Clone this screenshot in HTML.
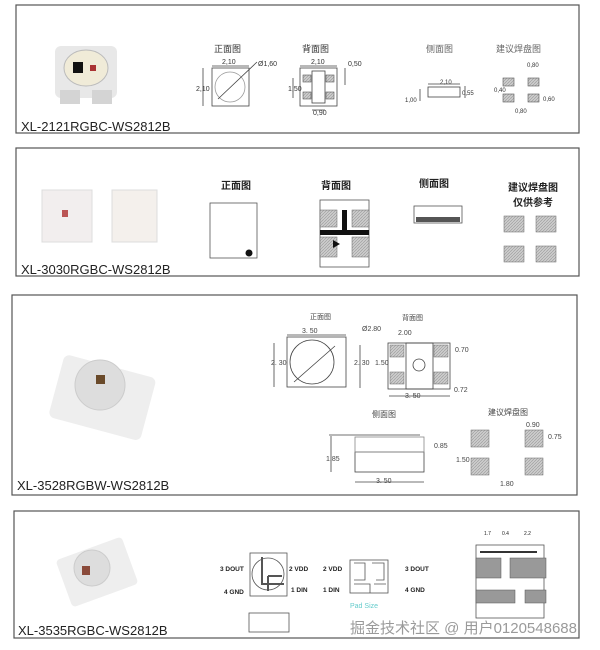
<!DOCTYPE html>
<html><head><meta charset="utf-8"><style>
body{margin:0;background:#fff;width:600px;height:650px;overflow:hidden}
svg{display:block}
text{font-family:"Liberation Sans","Noto Sans CJK SC",sans-serif}
</style></head><body>
<svg width="600" height="650" viewBox="0 0 600 650" xmlns="http://www.w3.org/2000/svg">
<defs>
<pattern id="h" width="3" height="3" patternUnits="userSpaceOnUse"><rect width="3" height="3" fill="#ccc"/><path d="M0 3L3 0" stroke="#999" stroke-width="0.6"/></pattern>
</defs>
<g fill="none" stroke="#555" stroke-width="1.2">
<rect x="16" y="5" width="563" height="128"/>
<rect x="16" y="148" width="563" height="128"/>
<rect x="12" y="295" width="565" height="200"/>
<rect x="14" y="511" width="565" height="127"/>
</g>
<g font-size="13" fill="#222">
<text x="21" y="131">XL-2121RGBC-WS2812B</text>
<text x="21" y="274">XL-3030RGBC-WS2812B</text>
<text x="17" y="490">XL-3528RGBW-WS2812B</text>
<text x="18" y="635">XL-3535RGBC-WS2812B</text>
</g>
<!-- Panel 1 photo -->
<rect x="55" y="46" width="62" height="52" rx="6" fill="#e8e8e8"/>
<rect x="60" y="90" width="20" height="14" fill="#d4d4d4"/><rect x="92" y="90" width="20" height="14" fill="#d4d4d4"/>
<ellipse cx="86" cy="68" rx="22" ry="18" fill="#f0ebd8" stroke="#bbb"/>
<rect x="73" y="62" width="10" height="11" fill="#111"/><rect x="90" y="65" width="6" height="6" fill="#a33"/>
<g font-size="9" fill="#333">
<text x="214" y="52">正面图</text><text x="302" y="52">背面图</text>
<text x="426" y="52" fill="#666">侧面图</text><text x="496" y="52" fill="#666">建议焊盘图</text>
<text x="222" y="64" font-size="7">2,10</text><text x="258" y="66" font-size="7">Ø1,60</text>
<text x="196" y="91" font-size="7">2,10</text>
<text x="311" y="64" font-size="7">2,10</text><text x="348" y="66" font-size="7">0,50</text>
<text x="288" y="91" font-size="7">1,50</text><text x="313" y="115" font-size="7">0,90</text>
<text x="440" y="84" font-size="6">2,10</text><text x="462" y="95" font-size="6">0,55</text><text x="405" y="102" font-size="6">1,00</text>
<text x="527" y="67" font-size="6">0,80</text><text x="494" y="92" font-size="6">0,40</text><text x="543" y="101" font-size="6">0,60</text><text x="515" y="113" font-size="6">0,80</text>
</g>
<g fill="none" stroke="#444" stroke-width="0.8">
<rect x="212" y="68" width="37" height="38"/><circle cx="230" cy="87" r="15" stroke="#999"/>
<path d="M218 99L257 62M212 66H249M203 68V106"/>
<rect x="300" y="68" width="37" height="38"/><rect x="312" y="71" width="13" height="32"/>
<path d="M300 66H337M293 78V98M312 110H325M345 68V85"/>
<rect x="428" y="87" width="32" height="10"/><path d="M428 84H460M420 89V101M465 86V98"/>
</g>
<g fill="url(#h)" stroke="#555" stroke-width="0.6">
<rect x="303" y="75" width="8" height="7"/><rect x="326" y="75" width="8" height="7"/><rect x="303" y="92" width="8" height="7"/><rect x="326" y="92" width="8" height="7"/>
<rect x="503" y="78" width="11" height="8"/><rect x="528" y="78" width="11" height="8"/><rect x="503" y="94" width="11" height="8"/><rect x="528" y="94" width="11" height="8"/>
</g>
<!-- Panel 2 -->
<rect x="42" y="190" width="50" height="52" fill="#f2eeee" stroke="#ddd"/><rect x="62" y="210" width="6" height="7" fill="#b55"/>
<rect x="112" y="190" width="45" height="52" fill="#f4f0ec" stroke="#ddd"/>
<g font-size="10" font-weight="bold" fill="#222">
<text x="221" y="217" transform="translate(0,-28)">正面图</text><text x="321" y="189">背面图</text><text x="419" y="187">侧面图</text>
<text x="508" y="191">建议焊盘图</text><text x="513" y="206">仅供参考</text>
</g>
<g fill="none" stroke="#555" stroke-width="0.8">
<rect x="210" y="203" width="47" height="55"/><rect x="320" y="200" width="49" height="67"/>
<rect x="414" y="206" width="48" height="17"/>
</g>
<circle cx="249" cy="253" r="3.5" fill="#111"/>
<g fill="url(#h)" stroke="#666" stroke-width="0.5">
<rect x="320" y="210" width="17" height="17"/><rect x="352" y="210" width="17" height="17"/><rect x="320" y="237" width="17" height="20"/><rect x="352" y="237" width="17" height="20"/>
<rect x="504" y="216" width="20" height="16"/><rect x="536" y="216" width="20" height="16"/><rect x="504" y="246" width="20" height="16"/><rect x="536" y="246" width="20" height="16"/>
</g>
<rect x="320" y="230" width="49" height="5" fill="#111"/><rect x="342" y="210" width="5" height="22" fill="#111"/>
<path d="M340 244l-7-4v8z" fill="#111"/>
<rect x="416" y="217" width="44" height="5" fill="#555"/>
<!-- Panel 3 -->
<rect x="55" y="365" width="95" height="65" rx="6" fill="#eee" transform="rotate(15 102 397)"/>
<circle cx="100" cy="385" r="25" fill="#ddd" stroke="#ccc"/><rect x="96" y="375" width="9" height="9" fill="#6a4a2a"/>
<g font-size="7" fill="#444">
<text x="310" y="319">正面图</text><text x="402" y="320">背面图</text>
<text x="372" y="417" font-size="8">侧面图</text><text x="488" y="415" font-size="8">建议焊盘图</text>
<text x="302" y="333">3. 50</text><text x="362" y="331">Ø2.80</text><text x="398" y="335">2.00</text>
<text x="271" y="365">2. 30</text><text x="354" y="365">2. 30</text><text x="375" y="365">1.50</text><text x="455" y="352">0.70</text>
<text x="405" y="398">3. 50</text><text x="454" y="392">0.72</text>
<text x="326" y="461">1.85</text><text x="434" y="448">0.85</text><text x="376" y="483">3. 50</text>
<text x="456" y="462">1.50</text><text x="526" y="427">0.90</text><text x="548" y="439">0.75</text><text x="500" y="486">1.80</text>
</g>
<g fill="none" stroke="#444" stroke-width="0.8">
<rect x="287" y="337" width="59" height="50"/><circle cx="312" cy="362" r="22"/>
<path d="M287 335H346M274 343V387M294 382L335 346"/>
<rect x="388" y="343" width="62" height="46"/><rect x="406" y="343" width="27" height="46"/><circle cx="419" cy="365" r="6"/>
<path d="M360 345V388M389 396H450"/>
<path d="M329 435H420M331 436V472"/>
<rect x="355" y="452" width="69" height="20"/><rect x="355" y="437" width="69" height="15" stroke="#888"/><path d="M355 482H424"/>
</g>
<g fill="url(#h)" stroke="#666" stroke-width="0.5">
<rect x="390" y="345" width="14" height="12"/><rect x="434" y="345" width="14" height="12"/><rect x="390" y="372" width="14" height="12"/><rect x="434" y="372" width="14" height="12"/>
<rect x="471" y="430" width="18" height="17"/><rect x="525" y="430" width="18" height="17"/><rect x="471" y="458" width="18" height="17"/><rect x="525" y="458" width="18" height="17"/>
</g>
<!-- Panel 4 -->
<rect x="62" y="547" width="70" height="50" rx="4" fill="#eee" transform="rotate(-20 97 572)"/>
<circle cx="92" cy="568" r="18" fill="#ddd" stroke="#ccc"/><rect x="82" y="566" width="8" height="9" fill="#8a4a3a"/>
<g font-size="6.5" fill="#222" font-weight="bold">
<text x="220" y="571">3 DOUT</text><text x="289" y="571">2 VDD</text><text x="224" y="594">4 GND</text><text x="291" y="592">1 DIN</text>
<text x="323" y="571">2 VDD</text><text x="405" y="571">3 DOUT</text><text x="323" y="592">1 DIN</text><text x="405" y="592">4 GND</text>
<text x="484" y="535" font-weight="normal" font-size="5">1.7</text><text x="502" y="535" font-weight="normal" font-size="5">0.4</text><text x="524" y="535" font-weight="normal" font-size="5">2.2</text>
</g>
<text x="350" y="608" font-size="7" fill="#6cc">Pad Size</text>
<g fill="none" stroke="#555" stroke-width="0.8">
<rect x="250" y="553" width="37" height="43"/><circle cx="268" cy="574" r="16"/>
<path d="M262 557V584H284M268 576H282M268 576V591" stroke-width="2"/>
<rect x="249" y="613" width="40" height="19"/>
<rect x="350" y="560" width="38" height="33"/>
<path d="M354 563H365V580H354M372 563H384V580H376M354 584H370V593M374 584H386"/>
<rect x="476" y="545" width="68" height="73"/>
</g>
<path d="M480 552H537" stroke="#333" stroke-width="2" fill="none"/>
<g fill="#999" stroke="#555" stroke-width="0.5">
<rect x="476" y="558" width="25" height="20"/><rect x="510" y="558" width="36" height="20"/>
<rect x="476" y="590" width="39" height="13"/><rect x="525" y="590" width="21" height="13"/>
</g>
<text x="350" y="633" font-size="15" fill="#888" fill-opacity="0.85" font-family="'Noto Sans CJK SC',sans-serif">掘金技术社区 @ 用户0120548688</text>
</svg>
</body></html>
